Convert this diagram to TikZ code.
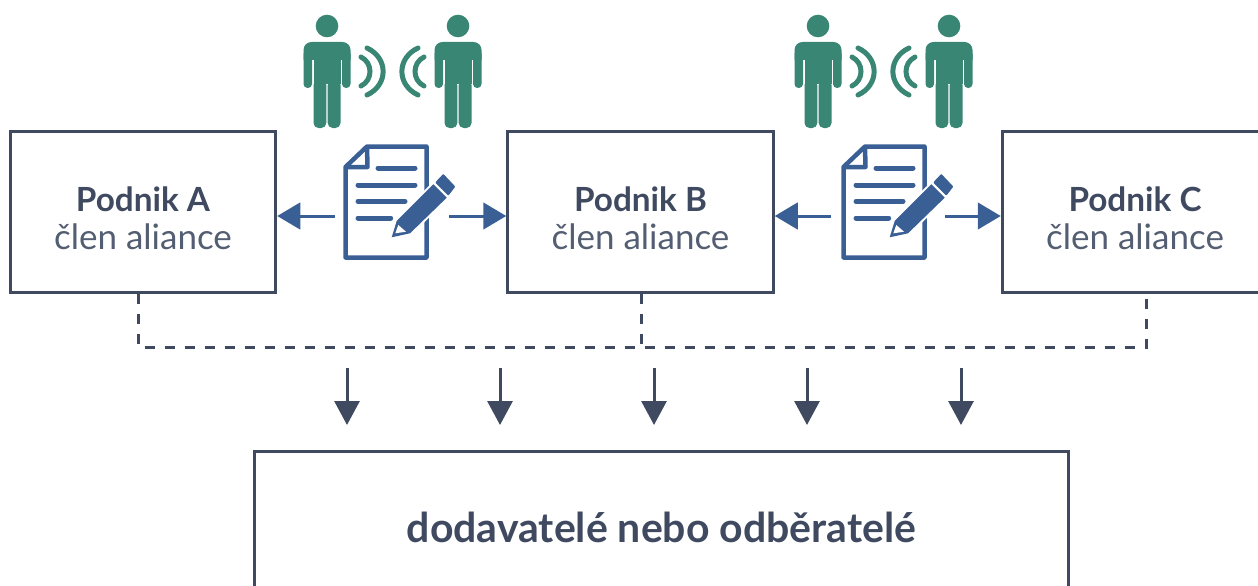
\documentclass[tikz,border=0pt]{standalone}
\usepackage{fontspec}
\setmainfont{Lato}
\usetikzlibrary{arrows.meta}
\definecolor{slate}{HTML}{3F4A60}
\definecolor{slatelight}{HTML}{545E72}
\definecolor{teal}{HTML}{388673}
\definecolor{docblue}{HTML}{3A5F95}
\newcommand{\firmlabel}[1]{\rule{0pt}{38pt}{\fontsize{33.3}{38}\selectfont\textcolor{slate}{\bfseries #1}}\\člen aliance}
\tikzset{
  firm/.style={rectangle,draw=slate,line width=3pt,minimum width=265.5pt,minimum height=161pt,align=center,text=slatelight,font=\fontsize{35}{38}\selectfont},
  dashline/.style={draw=slate,line width=3pt,dash pattern=on 10pt off 10pt},
  downarrow/.style={draw=slate,fill=slate,line width=3pt,-{Triangle[width=25pt,length=24pt]}},
  sidearrow/.style={draw=docblue,fill=docblue,line width=3pt,-{Triangle[width=26.5pt,length=23pt]}},
  person/.pic={
    \fill[teal] (0,26) circle (11.3);
    \fill[teal,rounded corners=8pt] (-23.5,60) -- (-23.5,42) -- (23.5,42) -- (23.5,60);
    \fill[teal,rounded corners=4pt] (-23.5,50) -- (-23.5,88) -- (-15,88) -- (-15,50) -- cycle;
    \fill[teal,rounded corners=4pt] (23.5,50) -- (23.5,88) -- (15,88) -- (15,50) -- cycle;
    \fill[teal] (-13.5,46) rectangle (13.5,84);
    \fill[teal,rounded corners=5pt] (-13.5,80) -- (-13.5,128) -- (-0.7,128) -- (-0.7,80) -- cycle;
    \fill[teal,rounded corners=5pt] (13.5,80) -- (13.5,128) -- (0.7,128) -- (0.7,80) -- cycle;
  },
  wavesleft/.pic={
    \draw[teal,line width=5pt,line cap=round] (-31.5,57) .. controls (-19.5,63) and (-19.5,80) .. (-31.5,86);
    \draw[teal,line width=5pt,line cap=round] (-25.5,48) .. controls (-4,58) and (-4,85) .. (-25.5,95);
  },
  wavesright/.pic={
    \draw[teal,line width=5pt,line cap=round] (31.5,57) .. controls (19.5,63) and (19.5,80) .. (31.5,86);
    \draw[teal,line width=5pt,line cap=round] (25.5,48) .. controls (4,58) and (4,85) .. (25.5,95);
  },
  talkpair/.pic={
    \pic at (-65.5,0) {person};
    \pic at (65.5,0) {person};
    \pic at (0,0) {wavesleft};
    \pic at (0,0) {wavesright};
  },
  contract/.pic={
    \draw[docblue,line width=4.5pt,line join=round] (-40.5,-35) -- (-19,-55.5) -- (40.5,-55.5) -- (40.5,55.5) -- (-40.5,55.5) -- cycle;
    \draw[docblue,line width=4.5pt,line join=round] (-19,-55.5) -- (-18.5,-35) -- (-40.5,-35);
    \draw[docblue,line width=5pt,line cap=round] (-8,-34) -- (29,-34);
    \draw[docblue,line width=5pt,line cap=round] (-28,-17) -- (29,-17);
    \draw[docblue,line width=5pt,line cap=round] (-28,-0.7) -- (19,-0.7);
    \draw[docblue,line width=5pt,line cap=round] (-28,16) -- (4.7,16);
    \filldraw[draw=white,fill=docblue,line width=4pt,line join=round] (47.3,-17.7) -- (60.7,-4.3) -- (24,31.3) -- (5.7,35.3) -- (10.7,19) -- cycle;
    \fill[docblue] (47.3,-17.7) -- (60.7,-4.3) -- (24,31.3) -- (5.7,35.3) -- (10.7,19) -- cycle;
    \fill[white] (9.3,31.3) -- (12.3,23) -- (20,29.7) -- cycle;
    \filldraw[draw=docblue,fill=docblue,line width=2pt,line join=round] (50.5,-19.5) -- (62.2,-7.8) -- (68,-15.3) -- (57.3,-26.7) -- cycle;
  }
}
\begin{document}
\begin{tikzpicture}[x=1pt,y=-1pt]
  \useasboundingbox (0,0) rectangle (1258,586);
  \clip (0,0) rectangle (1258,586);
  \node (A) at (143,211.5) [firm] {\firmlabel{Podnik A}};
  \node (B) at (640.5,211.5) [firm] {\firmlabel{Podnik B}};
  \node (C) at (1135,211.5) [firm] {\firmlabel{Podnik C}};
  \node (S) at (661.5,527) [rectangle,draw=slate,line width=3pt,minimum width=814.5pt,minimum height=152pt,text=slate,font=\fontsize{41}{48}\selectfont\bfseries] {dodavatelé nebo odběratelé};
  \pic at (392.5,0) {talkpair};
  \pic at (883.5,0) {talkpair};
  \pic at (386,202) {contract};
  \pic at (884,202) {contract};
  \coordinate (L1) at (335,216);
  \coordinate (R1) at (449,216);
  \coordinate (L2) at (831,216);
  \coordinate (R2) at (945,216);
  \draw [sidearrow] (L1) -- (A.east |- L1);
  \draw [sidearrow] (R1) -- (B.west |- R1);
  \draw [sidearrow] (L2) -- (B.east |- L2);
  \draw [sidearrow] (R2) -- (C.west |- R2);
  \coordinate (DA) at (138,294);
  \coordinate (DB) at (641,294);
  \coordinate (DC) at (1146,294);
  \coordinate (J) at (641,347.5);
  \draw [dashline] (DA) |- (J) -| (DC);
  \draw [dashline] (DB) -- (J);
  \foreach \name/\x in {a/347,b/500,c/654,d/807,e/961} {
    \coordinate (F\name) at (\x,368);
    \coordinate (T\name) at (\x,425);
    \draw [downarrow] (F\name) -- (T\name);
  }
\end{tikzpicture}
\end{document}
